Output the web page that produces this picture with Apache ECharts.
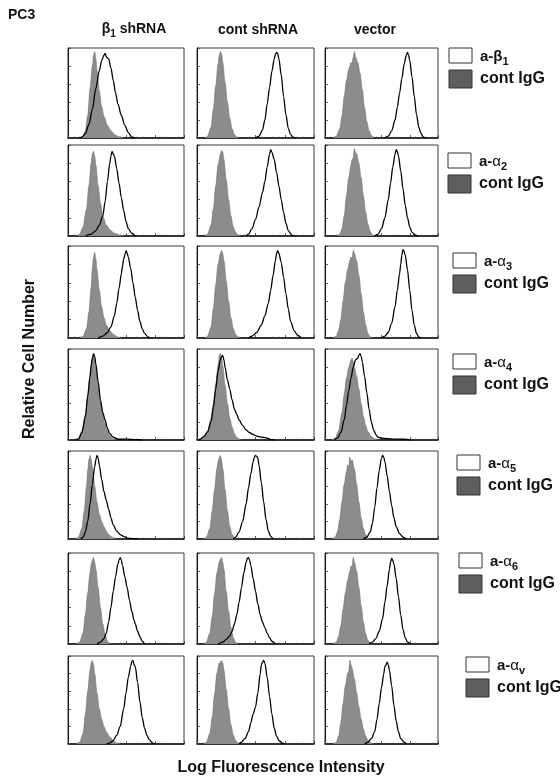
<!DOCTYPE html>
<html>
<head>
<meta charset="utf-8">
<script src="https://cdn.jsdelivr.net/npm/echarts@6/dist/echarts.min.js"></script>
<style>
  html, body { margin: 0; padding: 0; background: #fff; }
  #chart { width: 560px; height: 781px; }
</style>
</head>
<body>
<div id="chart"></div>
<script>
// columns and rows of the figure
const colNames = ['β|1| shRNA', 'cont shRNA', 'vector'];
const antibodies = ['β|1', 'α|2', 'α|3', 'α|4', 'α|5', 'α|6', 'α|v'];

// histograms, [log fluorescence (% of axis), relative cell number (%)], one per column
const b1IgG = [
  [[10,0],[13,2],[15,8],[17,25],[19,55],[21,80],[22,92],[23,96],[24,88],[25,75],[27,52],[29,35],[31,24],[34,14],[37,8],[41,3],[45,1],[48,0]],
  [[7,0],[9,2],[12,12],[14,32],[16,58],[18,82],[19,92],[20,96],[21,93],[22,84],[24,62],[26,40],[28,22],[30,10],[32,4],[34,1],[36,0]],
  [[7,0],[10,2],[13,10],[15,24],[17,46],[19,64],[21,76],[22,80],[23,84],[24,83],[25,90],[26,96],[27,90],[29,84],[31,72],[33,54],[35,34],[37,18],[39,8],[41,3],[43,0]]
];
const b1Open = [
  [[10,0],[12,1],[15,5],[18,15],[21,32],[24,55],[27,75],[29,86],[31,92],[32,94],[33,90],[35,88],[37,78],[39,64],[41,50],[43,38],[46,25],[49,14],[52,6],[55,1],[58,0]],
  [[50,0],[53,2],[56,9],[58,20],[60,38],[62,56],[64,74],[66,88],[67,93],[68,95],[69,94],[70,88],[72,70],[74,46],[76,26],[78,11],[80,4],[82,1],[84,0]],
  [[53,0],[56,2],[59,8],[62,20],[64,34],[66,50],[68,66],[70,82],[72,92],[73,95],[74,92],[75,86],[77,68],[79,46],[81,26],[83,12],[85,5],[87,1],[89,0]]
];
const a2IgG = [
  [[8,0],[10,2],[13,10],[16,30],[18,55],[20,80],[21,90],[22,93],[23,88],[24,78],[26,55],[28,36],[30,22],[33,12],[36,7],[40,3],[45,1],[48,0]],
  [[7,0],[9,2],[12,12],[14,30],[16,55],[18,78],[20,90],[21,94],[22,92],[23,84],[25,62],[27,40],[29,22],[31,10],[33,4],[35,1],[37,0]],
  [[11,0],[13,2],[15,8],[17,22],[19,44],[21,64],[23,78],[24,84],[25,86],[26,96],[27,92],[28,90],[30,80],[32,64],[34,44],[36,26],[38,13],[40,5],[42,1],[44,0]]
];
const a2Open = [
  [[15,0],[20,2],[24,6],[27,12],[30,22],[32,38],[34,60],[36,80],[37,88],[38,93],[39,90],[40,88],[42,74],[44,58],[46,42],[48,28],[50,16],[52,8],[55,3],[58,0]],
  [[42,0],[44,2],[47,8],[50,18],[53,32],[56,48],[58,60],[60,76],[62,90],[63,95],[64,92],[66,84],[68,70],[70,55],[72,40],[74,26],[76,14],[78,6],[81,1],[83,0]],
  [[44,0],[47,2],[50,8],[53,20],[56,40],[58,58],[60,76],[62,90],[63,95],[64,93],[65,88],[67,72],[69,52],[71,34],[73,20],[75,10],[77,4],[80,1],[82,0]]
];
const a3IgG = [
  [[10,0],[13,2],[16,10],[18,28],[20,55],[21,75],[22,88],[23,93],[24,86],[25,74],[27,52],[29,34],[31,22],[33,14],[36,8],[39,4],[43,1],[46,0]],
  [[7,0],[9,2],[12,12],[14,32],[16,58],[18,80],[20,92],[21,95],[22,92],[23,84],[25,62],[27,40],[29,22],[31,10],[33,4],[35,1],[37,0]],
  [[7,0],[10,2],[12,8],[14,20],[16,40],[18,60],[20,74],[22,84],[23,88],[24,86],[25,95],[26,92],[28,84],[30,68],[32,48],[34,28],[36,14],[38,5],[40,1],[42,0]]
];
const a3Open = [
  [[26,0],[30,2],[34,6],[37,12],[40,24],[42,38],[44,54],[46,70],[47,78],[48,86],[49,90],[50,95],[51,92],[52,88],[54,76],[56,60],[58,44],[60,30],[62,18],[64,10],[66,5],[69,1],[71,0]],
  [[44,0],[47,2],[51,6],[55,14],[58,24],[61,38],[63,52],[65,68],[67,84],[68,92],[69,95],[70,92],[72,82],[74,66],[76,48],[78,32],[80,18],[83,8],[86,3],[89,0]],
  [[50,0],[53,2],[56,6],[59,16],[62,34],[64,52],[66,70],[67,80],[68,90],[69,96],[70,94],[71,90],[73,74],[75,52],[77,30],[79,14],[81,5],[83,1],[85,0]]
];
const a4IgG = [
  [[6,0],[9,2],[12,10],[15,28],[17,50],[19,72],[20,84],[21,90],[22,93],[23,88],[24,80],[26,60],[28,42],[30,28],[32,18],[34,10],[36,5],[39,1],[42,0]],
  [[1,0],[3,1],[6,4],[9,10],[12,24],[14,40],[16,62],[18,82],[19,92],[20,95],[21,90],[22,82],[24,60],[26,40],[28,24],[30,14],[32,7],[34,3],[36,1],[38,0]],
  [[6,0],[9,2],[12,10],[15,30],[17,50],[19,68],[21,80],[23,88],[24,90],[25,86],[26,80],[28,70],[30,56],[32,40],[34,26],[36,16],[38,9],[41,4],[44,1],[47,0]]
];
const a4Open = [
  [[6,0],[9,1],[12,8],[15,26],[17,48],[19,70],[20,82],[21,90],[22,95],[23,92],[24,84],[26,64],[28,44],[30,30],[32,22],[34,13],[36,7],[39,3],[43,1],[50,1],[58,0.5],[64,0]],
  [[1,0],[3,1],[6,4],[9,9],[12,20],[14,36],[16,56],[18,76],[20,88],[21,92],[22,93],[23,88],[24,80],[26,66],[28,56],[30,44],[32,34],[34,28],[36,22],[39,16],[42,11],[45,8],[48,6],[52,4],[56,3],[60,2],[63,0.5],[66,0]],
  [[8,0],[11,2],[14,8],[17,22],[19,38],[21,54],[23,68],[25,80],[27,88],[29,90],[30,93],[31,95],[32,92],[33,86],[35,70],[37,52],[39,34],[41,20],[43,11],[45,6],[47,3],[50,2],[60,1],[70,1],[76,0]]
];
const a5IgG = [
  [[6,0],[9,2],[12,12],[14,32],[16,60],[17,78],[18,90],[19,95],[20,90],[21,82],[23,60],[25,42],[27,28],[29,20],[31,14],[33,9],[35,5],[38,2],[41,0]],
  [[6,0],[8,2],[11,12],[13,32],[15,56],[17,80],[18,88],[19,92],[20,95],[21,90],[22,80],[24,56],[26,32],[28,14],[30,5],[32,1],[34,0]],
  [[6,0],[9,2],[11,8],[13,22],[15,42],[17,62],[19,76],[20,84],[21,82],[22,93],[23,88],[24,90],[26,80],[28,62],[30,42],[32,24],[34,12],[36,5],[38,1],[40,0]]
];
const a5Open = [
  [[11,0],[13,2],[15,8],[17,20],[19,40],[21,62],[23,82],[24,90],[25,95],[26,92],[27,84],[29,68],[31,54],[33,44],[35,34],[37,24],[39,16],[42,9],[45,5],[48,3],[51,1],[56,0.5],[60,0]],
  [[31,0],[33,2],[36,8],[39,20],[42,40],[44,58],[46,74],[48,88],[49,93],[50,95],[51,94],[52,92],[53,84],[55,64],[57,42],[59,22],[61,9],[63,3],[65,0]],
  [[34,0],[37,2],[40,8],[42,18],[44,36],[46,58],[48,78],[50,92],[51,95],[52,93],[53,88],[55,72],[57,54],[59,38],[61,24],[63,14],[66,6],[69,2],[72,0]]
];
const a6IgG = [
  [[7,0],[10,2],[13,12],[15,32],[17,56],[19,78],[20,88],[21,92],[22,95],[23,90],[24,82],[26,62],[28,40],[30,22],[32,10],[34,3],[36,0]],
  [[6,0],[8,2],[11,12],[13,30],[15,55],[17,78],[19,90],[20,93],[21,95],[22,90],[23,82],[25,58],[27,36],[29,18],[31,7],[33,2],[35,0]],
  [[7,0],[10,2],[12,8],[14,20],[16,38],[18,56],[20,70],[22,80],[23,86],[24,84],[25,95],[26,90],[28,80],[30,62],[32,42],[34,24],[36,11],[38,4],[40,1],[42,0]]
];
const a6Open = [
  [[25,0],[28,2],[31,6],[33,12],[35,24],[37,40],[39,58],[41,74],[43,88],[44,92],[45,95],[46,92],[47,86],[49,74],[51,62],[53,48],[55,36],[57,26],[58,22],[60,14],[62,8],[64,3],[66,0]],
  [[18,0],[22,2],[25,5],[28,9],[30,14],[32,22],[34,32],[36,46],[38,62],[40,78],[42,90],[43,94],[44,95],[45,92],[46,86],[48,72],[50,58],[52,44],[54,32],[56,24],[58,18],[60,12],[62,7],[64,3],[67,0]],
  [[39,0],[42,2],[45,6],[48,14],[51,28],[53,46],[55,64],[57,82],[58,90],[59,94],[60,92],[61,88],[63,72],[65,52],[67,32],[69,16],[71,7],[73,2],[76,0]]
];
const avIgG = [
  [[7,0],[10,2],[13,12],[15,34],[17,60],[19,84],[20,92],[21,95],[22,90],[23,80],[25,58],[27,40],[29,28],[31,20],[33,14],[36,8],[39,4],[42,1],[45,0]],
  [[6,0],[8,2],[11,12],[13,30],[15,56],[17,80],[19,92],[20,93],[21,95],[22,92],[23,84],[25,62],[27,40],[29,22],[31,10],[33,4],[35,1],[37,0]],
  [[7,0],[10,2],[12,9],[14,24],[16,46],[18,66],[20,80],[21,82],[22,95],[23,90],[24,86],[26,74],[28,58],[30,42],[32,28],[34,17],[36,9],[38,4],[41,1],[43,0]]
];
const avOpen = [
  [[33,0],[36,1],[39,4],[42,10],[45,20],[48,40],[50,58],[52,76],[54,88],[55,94],[56,95],[57,90],[58,88],[60,70],[62,48],[64,30],[66,18],[68,10],[70,5],[73,1],[75,0]],
  [[36,0],[38,2],[41,6],[44,14],[46,24],[48,34],[50,42],[52,58],[54,80],[55,90],[56,93],[57,95],[58,92],[60,76],[62,54],[64,34],[66,18],[68,9],[70,4],[73,1],[75,0]],
  [[35,0],[38,2],[41,6],[44,14],[46,28],[48,46],[50,64],[52,80],[53,88],[54,90],[55,93],[56,90],[57,84],[59,66],[61,44],[63,26],[65,14],[67,6],[70,2],[72,0]]
];

const igGRows = [b1IgG, a2IgG, a3IgG, a4IgG, a5IgG, a6IgG, avIgG];
const openRows = [b1Open, a2Open, a3Open, a4Open, a5Open, a6Open, avOpen];

// panel placement
const colLeft = [68, 197, 325];
const colWidth = [116, 117, 113];
const rowTop = [48, 145, 246, 349, 451, 553, 656];
const rowHeight = [90, 91, 92, 91, 88, 91, 88];
const colHeadX = [134, 258, 375];
// legend box left / top for each row
const legLeft = [449, 448, 453, 453, 457, 459, 466];
const legTop = [48, 153, 253, 354, 455, 553, 657];

const FONT = '"Liberation Sans", Arial, sans-serif';
const GRAY = '#8c8c8c';

const grids = [], xAxes = [], yAxes = [], series = [];
for (let r = 0; r < 7; r++) {
  for (let c = 0; c < 3; c++) {
    const i = r * 3 + c;
    grids.push({
      left: colLeft[c], top: rowTop[r], width: colWidth[c], height: rowHeight[r],
      show: true, borderColor: '#3a3a3a', borderWidth: 1, backgroundColor: '#fff'
    });
    xAxes.push({
      gridIndex: i, type: 'value', min: 0, max: 100, interval: 25,
      axisLine: { show: true, lineStyle: { color: '#111', width: 1.5 } },
      axisTick: { show: true, inside: true, length: 3, lineStyle: { color: '#333', width: 0.8 } },
      minorTick: { show: true, splitNumber: 5, length: 1.5, lineStyle: { color: '#555', width: 0.6 } },
      axisLabel: { show: false }, splitLine: { show: false }
    });
    yAxes.push({
      gridIndex: i, type: 'value', min: 0, max: 100, interval: 20,
      axisLine: { show: true, lineStyle: { color: '#111', width: 1 } },
      axisTick: { show: true, inside: true, length: 3, lineStyle: { color: '#333', width: 0.8 } },
      minorTick: { show: true, splitNumber: 4, length: 1.5, lineStyle: { color: '#555', width: 0.6 } },
      axisLabel: { show: false }, splitLine: { show: false }
    });
    series.push({
      name: 'cont IgG', type: 'line', xAxisIndex: i, yAxisIndex: i,
      data: igGRows[r][c], smooth: 0.3, smoothMonotone: 'x', showSymbol: false,
      lineStyle: { color: '#6e6e6e', width: 0.6 },
      areaStyle: { color: GRAY, opacity: 1 }, z: 2, silent: true
    });
    series.push({
      name: 'a-' + antibodies[r].replace('|', ''), type: 'line', xAxisIndex: i, yAxisIndex: i,
      data: openRows[r][c], smooth: 0.3, smoothMonotone: 'x', showSymbol: false,
      lineStyle: { color: '#000', width: 1.3 }, z: 3, silent: true
    });
  }
}

function sub(txt) {
  // "base|subscript|rest" -> rich text
  const p = txt.split('|');
  return '{m|' + p[0] + '}{s|' + p[1] + '}' + (p[2] ? '{m|' + p[2] + '}' : '');
}

const graphics = [];
graphics.push({ type: 'text', x: 8, y: 8, style: { text: 'PC3', font: 'bold 14px ' + FONT, fill: '#111' } });
colNames.forEach(function (name, c) {
  const rich = name.indexOf('|') >= 0;
  graphics.push({
    type: 'text', x: colHeadX[c], y: 30,
    style: rich ? {
      text: sub(name), align: 'center', verticalAlign: 'middle',
      rich: {
        m: { font: 'bold 14px ' + FONT, fill: '#111', lineHeight: 16, verticalAlign: 'top' },
        s: { font: 'bold 10px ' + FONT, fill: '#111', lineHeight: 10, verticalAlign: 'top', padding: [7, 0, 0, 0] }
      }
    } : { text: name, font: 'bold 14px ' + FONT, fill: '#111', align: 'center', verticalAlign: 'middle' }
  });
});
graphics.push({
  type: 'text', x: 30, y: 359, rotation: Math.PI / 2,
  style: { text: 'Relative Cell Number', font: 'bold 16px ' + FONT, fill: '#111', align: 'center', verticalAlign: 'middle' }
});
graphics.push({
  type: 'text', x: 281, y: 768,
  style: { text: 'Log Fluorescence Intensity', font: 'bold 16px ' + FONT, fill: '#111', align: 'center', verticalAlign: 'middle' }
});
antibodies.forEach(function (ab, r) {
  const x = legLeft[r], y = legTop[r];
  graphics.push({ type: 'rect', shape: { x: x, y: y, width: 23, height: 15 }, style: { fill: '#fff', stroke: '#333', lineWidth: 1 } });
  graphics.push({ type: 'rect', shape: { x: x, y: y + 22, width: 23, height: 18 }, style: { fill: '#5e5e5e', stroke: '#333', lineWidth: 1 } });
  const p = ab.split('|');
  graphics.push({
    type: 'text', x: x + 31, y: y + 1,
    style: {
      text: '{m|a-}{g|' + p[0] + '}{s|' + p[1] + '}',
      rich: {
        m: { font: 'bold 15px ' + FONT, fill: '#111', lineHeight: 16, verticalAlign: 'top' },
        g: { font: (p[0] === 'β' ? 'bold ' : '') + '15px ' + FONT, fill: '#111', lineHeight: 16, verticalAlign: 'top' },
        s: { font: 'bold 11px ' + FONT, fill: '#111', lineHeight: 11, verticalAlign: 'top', padding: [7, 0, 0, 0] }
      }
    }
  });
  graphics.push({
    type: 'text', x: x + 31, y: y + 31,
    style: { text: 'cont IgG', font: 'bold 16px ' + FONT, fill: '#111', verticalAlign: 'middle' }
  });
});

const chart = echarts.init(document.getElementById('chart'), null, { renderer: 'canvas' });
chart.setOption({
  animation: false,
  backgroundColor: '#fff',
  grid: grids,
  xAxis: xAxes,
  yAxis: yAxes,
  series: series,
  graphic: graphics
});
</script>
</body>
</html>
